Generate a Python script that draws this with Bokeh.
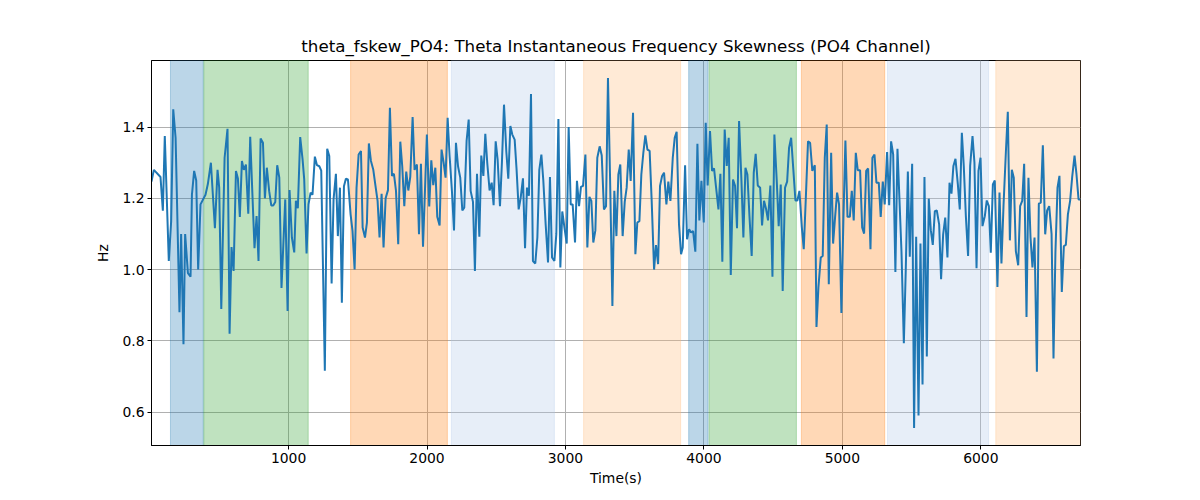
from bokeh.plotting import figure
from bokeh.models import Range1d, BoxAnnotation, FixedTicker
from bokeh.embed import file_html
from bokeh.resources import INLINE

time_s = [10, 27, 75, 92, 106, 135, 152, 167, 184, 212, 224, 241, 253, 273, 292, 302, 318, 333, 347, 364,
          400, 417, 439, 468, 487, 499, 514, 538, 559, 574, 588, 603, 620, 634, 648, 663, 677, 692, 709, 723,
          738, 754, 769, 783, 798, 815, 829, 843, 860, 875, 889, 904, 918, 933, 949,
          976, 993, 1007, 1024, 1041, 1053, 1067, 1084, 1101, 1113, 1130, 1144, 1159, 1173, 1190, 1205, 1222, 1236,
          1262, 1279, 1294, 1311, 1325, 1342, 1356, 1371, 1385, 1400, 1414, 1429, 1448, 1462, 1477, 1491, 1506,
          1523, 1535, 1552, 1566, 1580, 1595, 1612, 1626, 1643, 1657, 1672, 1686, 1701, 1718, 1732, 1747, 1761,
          1776, 1792, 1807, 1821, 1836, 1850, 1865, 1879, 1896, 1910, 1927,
          1942, 1956, 1971, 1985, 1999, 2016, 2031, 2045, 2060, 2074, 2091, 2105, 2120, 2134, 2149, 2163, 2180,
          2195, 2209, 2224, 2240, 2255, 2269, 2286, 2301, 2315, 2332, 2346, 2361, 2378, 2392, 2407, 2421, 2435,
          2452, 2467, 2481, 2496, 2510, 2527, 2541, 2556, 2573, 2587, 2602, 2616, 2633, 2647, 2662, 2676, 2693,
          2708, 2722, 2736, 2751, 2765, 2782, 2797, 2811, 2826, 2840, 2857, 2874,
          2888, 2903, 2920, 2934, 2949, 2963, 2977, 2992, 3009, 3023, 3038, 3052, 3069, 3083, 3098, 3112, 3127,
          3144, 3158, 3173, 3187, 3201, 3216, 3230, 3247, 3262, 3278, 3293, 3307, 3322, 3339, 3353, 3368, 3382,
          3396, 3413, 3428, 3442, 3457, 3471, 3488, 3505, 3519, 3534, 3548, 3563, 3577, 3592, 3608, 3623, 3640,
          3654, 3669, 3683, 3698, 3712, 3729, 3743, 3758, 3775, 3789, 3803, 3820, 3835,
          3847, 3864, 3878, 3893, 3907, 3922, 3938, 3953, 3967, 3982, 3999, 4013, 4027, 4044, 4059, 4073, 4088,
          4105, 4119, 4133, 4150, 4165, 4179, 4194, 4210, 4225, 4239, 4254, 4271, 4285, 4300, 4314, 4329, 4345,
          4360, 4374, 4389, 4406, 4420, 4434, 4449, 4463, 4480, 4495, 4509, 4526, 4540, 4555, 4569, 4586, 4601,
          4615, 4630, 4646, 4661, 4675, 4690, 4707, 4721, 4736, 4752, 4767, 4783,
          4801, 4813, 4827, 4844, 4858, 4873, 4887, 4902, 4919, 4933, 4948, 4962, 4976, 4993, 5008, 5022, 5037,
          5054, 5068, 5082, 5097, 5111, 5128, 5143, 5157, 5172, 5186, 5203, 5217, 5232, 5246, 5263, 5277, 5292,
          5306, 5323, 5338, 5352, 5367, 5383, 5398, 5412, 5427, 5444, 5458, 5473, 5487, 5504, 5518, 5533, 5550,
          5564, 5579, 5593, 5610, 5624, 5639, 5653, 5668, 5682, 5699, 5713, 5728, 5743,
          5759, 5774, 5788, 5802, 5817, 5834, 5848, 5863, 5877, 5892, 5908, 5923, 5940, 5954, 5969, 5983, 5998,
          6012, 6029, 6043, 6058, 6072, 6087, 6101, 6120, 6135, 6149, 6164, 6181, 6195, 6210, 6224, 6238, 6253,
          6270, 6284, 6299, 6313, 6330, 6344, 6359, 6373, 6388, 6405, 6419, 6433, 6448, 6465, 6479, 6494, 6511,
          6525, 6539, 6554, 6568, 6585, 6600, 6614, 6629, 6645, 6660, 6677, 6691, 6706, 6720]

fskew_hz = [1.247, 1.28, 1.26, 1.165, 1.375, 1.024, 1.136, 1.45, 1.37, 0.88, 1.10, 0.79, 1.10, 0.99, 0.98, 1.21, 1.277, 1.25, 1.0, 1.183,
            1.21, 1.24, 1.30, 1.116, 1.28, 1.23, 0.889, 1.314, 1.395, 0.82, 1.063, 0.996, 1.277, 1.256, 1.148, 1.305, 1.28, 1.295, 1.157, 1.373,
            1.22, 1.06, 1.15, 1.024, 1.368, 1.356, 1.2, 1.286, 1.22, 1.18, 1.18, 1.19, 1.293, 1.258, 0.948,
            1.197, 0.884, 1.223, 1.09, 1.048, 1.193, 1.172, 1.372, 1.31, 1.253, 1.045, 1.183, 1.216, 1.21, 1.317, 1.293, 1.29, 1.278,
            0.716, 1.339, 1.319, 0.961, 1.197, 1.269, 1.094, 1.23, 0.907, 1.234, 1.255, 1.253, 1.155, 1.108, 1.0, 1.23, 1.323,
            1.333, 1.118, 1.09, 1.132, 1.354, 1.305, 1.28, 1.24, 1.193, 1.09, 1.213, 1.062, 1.2, 1.223, 1.454, 1.263, 1.269,
            1.221, 1.071, 1.359, 1.29, 1.178, 1.275, 1.222, 1.26, 1.428, 1.28, 1.295,
            1.099, 1.297, 1.064, 1.22, 1.379, 1.177, 1.307, 1.237, 1.286, 1.148, 1.124, 1.337, 1.30, 1.258, 1.426, 1.32, 1.22,
            1.11, 1.356, 1.29, 1.258, 1.166, 1.174, 1.362, 1.421, 1.221, 1.19, 0.996, 1.269, 1.092, 1.32, 1.263, 1.381, 1.3,
            1.222, 1.244, 1.181, 1.36, 1.309, 1.178, 1.3, 1.463, 1.33, 1.255, 1.403, 1.379, 1.365, 1.28, 1.169, 1.2, 1.256,
            1.06, 1.23, 1.207, 1.493, 1.024, 1.017, 1.09, 1.28, 1.323, 1.25, 1.127, 1.02,
            1.26, 1.034, 1.024, 1.1, 1.423, 1.006, 1.163, 1.12, 1.073, 1.4, 1.183, 1.183, 1.076, 1.249, 1.178, 1.232, 1.235,
            1.323, 1.062, 1.204, 1.193, 1.076, 1.11, 1.314, 1.346, 1.32, 1.169, 1.178, 1.538, 1.26, 0.898, 1.221, 1.094, 1.267,
            1.295, 1.094, 1.19, 1.23, 1.337, 1.249, 1.44, 1.043, 1.132, 1.136, 1.267, 1.33, 1.377, 1.337, 1.333, 1.19, 1.0,
            1.069, 1.015, 1.235, 1.263, 1.272, 1.183, 1.247, 1.193, 1.314, 1.37, 1.387, 1.127, 1.043,
            1.062, 1.293, 1.085, 1.113, 1.104, 1.108, 1.05, 1.353, 1.138, 1.249, 1.132, 1.412, 1.236, 1.389, 1.277, 1.284, 1.23,
            1.169, 1.269, 1.022, 1.393, 1.291, 1.37, 0.985, 1.253, 1.235, 1.116, 1.417, 1.25, 1.09, 1.286, 1.267, 1.15, 1.038,
            1.272, 1.325, 1.236, 1.23, 1.124, 1.193, 1.17, 1.138, 1.236, 0.98, 1.379, 1.25, 1.122, 1.239, 0.94, 1.23, 1.247,
            1.342, 1.37, 1.28, 1.194, 1.194, 1.221, 1.12, 1.057, 1.2, 1.36, 1.356, 1.277,
            1.293, 0.839, 0.95, 1.034, 1.038, 1.314, 1.407, 0.959, 1.328, 1.073, 1.15, 1.216, 1.183, 0.878, 1.15, 1.362, 1.148,
            1.148, 1.221, 1.138, 1.328, 1.279, 1.279, 1.118, 1.101, 1.277, 1.284, 1.057, 1.314, 1.323, 1.244, 1.244, 1.148, 1.247,
            1.183, 1.33, 1.181, 1.36, 1.323, 0.993, 1.339, 1.2, 1.05, 0.793, 1.0, 1.275, 1.036, 1.297, 0.555, 1.092, 0.59,
            1.073, 0.677, 1.26, 0.756, 1.199, 1.11, 1.069, 1.164, 1.166, 1.127, 0.973, 1.099, 1.146,
            1.034, 1.244, 1.213, 1.291, 1.311, 1.24, 1.169, 1.384, 1.29, 1.15, 1.038, 1.291, 1.375, 1.3, 1.004, 1.277, 1.314,
            1.122, 1.15, 1.194, 1.178, 1.047, 1.239, 1.25, 0.951, 1.216, 1.017, 1.18, 1.33, 1.443, 1.082, 1.28, 1.258, 1.052,
            1.012, 1.178, 1.193, 1.297, 0.867, 1.258, 1.09, 1.006, 1.09, 0.713, 1.185, 1.188, 1.349, 1.099, 1.166, 1.178, 1.1,
            0.75, 1.05, 1.23, 1.263, 0.937, 1.066, 1.069, 1.155, 1.193, 1.26, 1.32, 1.267, 1.197, 1.197]

span_start = [147, 388, 1448, 2176, 3131, 3890, 4037, 4704, 5326, 6108]
span_end = [384, 1142, 2147, 2920, 3832, 4030, 4668, 5306, 6056, 6720]
span_color = ["#1f77b4", "#2ca02c", "#ff7f0e", "#aec7e8", "#ffbb78",
              "#1f77b4", "#2ca02c", "#ff7f0e", "#aec7e8", "#ffbb78"]

x_ticks = [1000, 2000, 3000, 4000, 5000, 6000]
y_ticks = [0.6, 0.8, 1.0, 1.2, 1.4]

p = figure(width=1184, height=492, frame_width=929, frame_height=385,
           output_backend="svg", toolbar_location=None,
           title="theta_fskew_PO4: Theta Instantaneous Frequency Skewness (PO4 Channel)",
           x_range=Range1d(10, 6720), y_range=Range1d(0.506, 1.587))
p.min_border_left = 151
p.min_border_right = 104
p.min_border_top = 60
p.min_border_bottom = 47

for s, e, c in zip(span_start, span_end, span_color):
    p.add_layout(BoxAnnotation(left=s, right=e, fill_color=c, fill_alpha=0.3,
                               line_color=c, line_alpha=0.3, line_width=1, level="underlay"))

p.line(time_s, fskew_hz, line_color="#1f77b4", line_width=2)

p.title.align = "center"
p.title.text_font = "DejaVu Sans"
p.title.text_font_size = "16.7px"
p.title.text_font_style = "normal"
p.title.text_color = "black"

p.outline_line_color = "black"
p.outline_line_width = 1
p.outline_line_alpha = 1

for ax in (p.xaxis[0], p.yaxis[0]):
    ax.axis_line_color = "black"
    ax.major_tick_line_color = "black"
    ax.major_tick_out = 4
    ax.major_tick_in = 0
    ax.minor_tick_line_color = None
    ax.major_label_text_font = "DejaVu Sans"
    ax.major_label_text_font_size = "13.9px"
    ax.major_label_text_color = "black"
    ax.axis_label_text_font = "DejaVu Sans"
    ax.axis_label_text_font_size = "13.9px"
    ax.axis_label_text_font_style = "normal"
    ax.axis_label_text_color = "black"

p.xaxis.ticker = FixedTicker(ticks=x_ticks)
p.yaxis.ticker = FixedTicker(ticks=y_ticks)
p.yaxis.major_label_overrides = {0.6: "0.6", 0.8: "0.8", 1.0: "1.0", 1.2: "1.2", 1.4: "1.4"}
p.xaxis.axis_label = "Time(s)"
p.yaxis.axis_label = "Hz"
p.xaxis.major_label_standoff = 3
p.yaxis.major_label_standoff = 3
p.xaxis.axis_label_standoff = 4
p.yaxis.axis_label_standoff = 8

p.xgrid.grid_line_color = "#b0b0b0"
p.ygrid.grid_line_color = "#b0b0b0"
p.xgrid.grid_line_width = 1
p.ygrid.grid_line_width = 1
p.xgrid.level = "underlay"
p.ygrid.level = "underlay"

p.background_fill_color = "white"
p.border_fill_color = "white"

open("out.html", "w").write(file_html(p, INLINE))
